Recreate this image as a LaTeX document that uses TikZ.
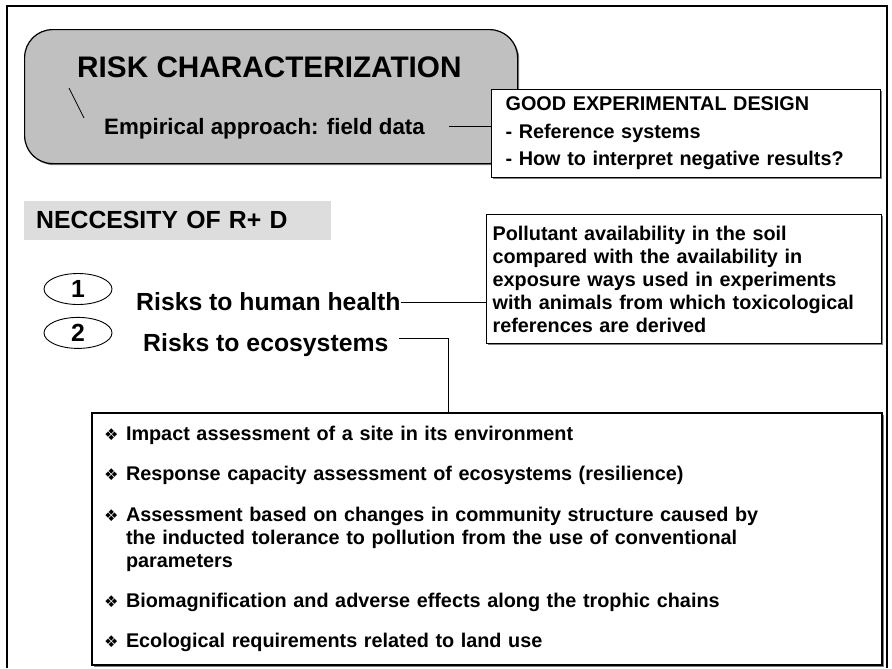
\documentclass[tikz,border=0pt]{standalone}
\usepackage{fontspec}
\setmainfont{Liberation Sans}
\newfontfamily\symbfont{DejaVu Sans}
\usetikzlibrary{positioning,shapes.geometric,shadows}
\definecolor{riskgray}{RGB}{192,192,192}
\definecolor{bargray}{RGB}{221,221,221}
\newlength{\pxl}
\setlength{\pxl}{0.8072bp}
\newcommand{\itm}{\makebox[22\pxl][l]{\symbfont\fontsize{13bp}{13bp}\selectfont\char"2756}}
\newcommand{\cont}{\hspace*{22\pxl}}

\begin{document}
\begin{tikzpicture}
[x=0.8072bp, y=-0.8072bp,
 big/.style={inner sep=0pt, font=\bfseries\fontsize{24bp}{28bp}\selectfont},
 mid/.style={inner sep=0pt, font=\bfseries\fontsize{20bp}{24bp}\selectfont},
 sub/.style={inner sep=0pt, font=\bfseries\fontsize{18bp}{22bp}\selectfont},
 shade/.style={drop shadow={shadow xshift=1.6\pxl, shadow yshift=-1.6\pxl, opacity=1, fill=gray}},
 box/.style={draw, fill=white, line width=1.2\pxl, anchor=north west, inner ysep=0pt, align=left,
   shade, font=\bfseries\fontsize{16bp}{18.6bp}\selectfont},
 ell/.style={draw, ellipse, line width=0.9\pxl, inner sep=0pt, minimum width=68\pxl,
   minimum height=31\pxl, font=\bfseries\fontsize{20bp}{24bp}\selectfont}]
\useasboundingbox (0,0) rectangle (892,668);
\draw[line width=2\pxl] (7,668) -- (7,6) -- (887,6) -- (887,668);

% risk characterization
\node[draw, fill=riskgray, rounded corners=28\pxl, line width=1.2\pxl, anchor=north west, shade,
  minimum width=493\pxl, minimum height=134\pxl] (risk) at (24,29) {};
\node[big, anchor=base west] (title) at (77,77) {RISK CHARACTERIZATION};
\node[sub, anchor=base west] (emp) at (104,134) {Empirical approach: field data};
\coordinate (d1) at (69,88);
\coordinate (d2) at (84,118);
\draw[line width=0.8\pxl] (d1) -- (d2);

\node[box, minimum width=389\pxl, minimum height=88\pxl, text width=361\pxl, inner xsep=14\pxl,
  font=\bfseries\fontsize{16bp}{22.2bp}\selectfont] (design) at (491,89)
  {GOOD EXPERIMENTAL DESIGN\\- Reference systems\\- How to interpret negative results?};
\coordinate (empe) at (449,126);
\draw[line width=0.9\pxl] (empe) -- (empe -| design.west);

% R+D
\node[mid, fill=bargray, anchor=west, minimum width=307\pxl, minimum height=39\pxl,
  text width=283\pxl, inner xsep=12\pxl, align=left] (need) at (24,220) {NECCESITY OF R+ D};

\node[ell] (n1) at (78,289) {1};
\node[ell, below=12\pxl of n1] (n2) {2};
\node[mid, anchor=west] (r1) at (136,302) {Risks to human health};
\node[mid, anchor=west] (r2) at (143,345) {Risks to ecosystems};

\node[box, minimum width=395\pxl, minimum height=129\pxl, text width=383\pxl, inner xsep=6\pxl]
  (poll) at (486,214)
  {Pollutant availability in the soil\\compared with the availability in\\exposure ways used in experiments\\with animals from which toxicological\\references are derived};
\draw[line width=0.9\pxl] (r1.east) -- (r1.east -| poll.west);

\node[box, line width=2\pxl, minimum width=790\pxl, minimum height=252\pxl, text width=766\pxl,
  inner xsep=12\pxl] (eco) at (91,412)
  {\itm Impact assessment of a site in its environment\\[14bp]
   \itm Response capacity assessment of ecosystems (resilience)\\[14bp]
   \itm Assessment based on changes in community structure caused by\\
   \cont the inducted tolerance to pollution from the use of conventional\\
   \cont parameters\\[14bp]
   \itm Biomagnification and adverse effects along the trophic chains\\[14bp]
   \itm Ecological requirements related to land use};
\coordinate (r2e) at (399,338);
\coordinate (bend) at (448,338);
\draw[line width=0.9\pxl] (r2e) -- (bend) -- (bend |- eco.north);
\end{tikzpicture}
\end{document}
